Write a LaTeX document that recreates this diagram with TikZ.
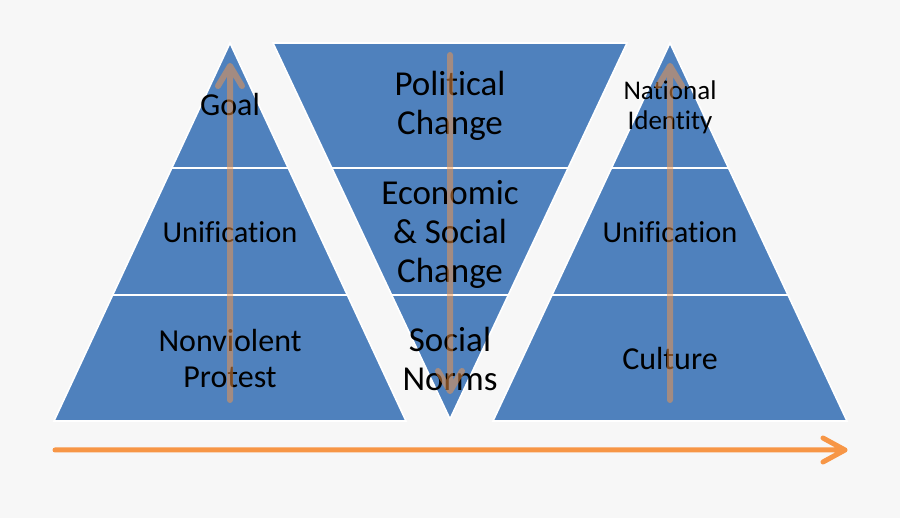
\documentclass[tikz,border=0pt]{standalone}
\usepackage{fontspec}
\setmainfont{Carlito}[Ligatures=NoCommon]
\usetikzlibrary{calc}
\definecolor{bg}{HTML}{F7F7F7}
\definecolor{pblue}{HTML}{4F81BD}
\definecolor{porange}{HTML}{F79646}
\begin{document}
\begin{tikzpicture}[x=1pt,y=-1pt,
  layer/.style={fill=pblue,draw=white,line width=1.6pt,line join=miter},
  lbl/.style={text=black,align=center,inner sep=0pt,anchor=base},
  bigf/.style={font=\fontsize{35}{39}\selectfont},
  midf/.style={font=\fontsize{32}{35.5}\selectfont},
  unif/.style={font=\fontsize{30.4}{35}\selectfont},
  natf/.style={font=\fontsize{27}{30}\selectfont},
  varrow/.style={draw=porange,draw opacity=0.5,line width=6pt,line cap=round,line join=round},
  harrow/.style={draw=porange,line width=5pt,line cap=round,line join=round}]
\fill[bg] (0,0) rectangle (900,518);
\useasboundingbox (0,0) rectangle (900,518);

% left pyramid
\coordinate (LA) at (230,43);
\coordinate (LL) at (54,421);
\coordinate (LR) at (406,421);
\coordinate (L1l) at ($(LA)!0.3307!(LL)$);
\coordinate (L1r) at ($(LA)!0.3307!(LR)$);
\coordinate (L2l) at ($(LA)!0.6667!(LL)$);
\coordinate (L2r) at ($(LA)!0.6667!(LR)$);
\draw[layer] (LA) -- (L1l) -- (L1r) -- cycle;
\draw[layer] (L1l) -- (L2l) -- (L2r) -- (L1r) -- cycle;
\draw[layer] (L2l) -- (LL) -- (LR) -- (L2r) -- cycle;

% middle inverted pyramid
\coordinate (MTL) at (273,43);
\coordinate (MTR) at (627,43);
\coordinate (MB) at (450,419);
\coordinate (M1l) at ($(MTL)!0.3324!(MB)$);
\coordinate (M1r) at ($(MTR)!0.3324!(MB)$);
\coordinate (M2l) at ($(MTL)!0.6702!(MB)$);
\coordinate (M2r) at ($(MTR)!0.6702!(MB)$);
\draw[layer] (MTL) -- (MTR) -- (M1r) -- (M1l) -- cycle;
\draw[layer] (M1l) -- (M1r) -- (M2r) -- (M2l) -- cycle;
\draw[layer] (M2l) -- (M2r) -- (MB) -- cycle;

% right pyramid
\coordinate (RA) at (670,43);
\coordinate (RL) at (493,421);
\coordinate (RR) at (847,421);
\coordinate (R1l) at ($(RA)!0.3307!(RL)$);
\coordinate (R1r) at ($(RA)!0.3307!(RR)$);
\coordinate (R2l) at ($(RA)!0.6667!(RL)$);
\coordinate (R2r) at ($(RA)!0.6667!(RR)$);
\draw[layer] (RA) -- (R1l) -- (R1r) -- cycle;
\draw[layer] (R1l) -- (R2l) -- (R2r) -- (R1r) -- cycle;
\draw[layer] (R2l) -- (RL) -- (RR) -- (R2r) -- cycle;

% labels (anchor=base is the baseline of the last line)
\node[lbl,midf] (goal) at (230,115.5) {Goal};
\node[lbl,unif] (uniL) at (230,242.5) {Unification};
\node[lbl,midf] (nonv) at (230,387.5) {Nonviolent\\Protest};
\node[lbl,bigf] (pol) at (450,135) {Political\\Change};
\node[lbl,bigf] (econ) at (450,283) {Economic\\\& Social\\Change};
\node[lbl,bigf] (soc) at (450,390.5) {Social\\Norms};
\node[lbl,natf] (nat) at (670,129.5) {National\\Identity};
\node[lbl,unif] (uniR) at (670,242.5) {Unification};
\node[lbl,midf] (cult) at (670,369.5) {Culture};

% vertical arrows
\coordinate (la0) at (230,400);
\coordinate (la1) at (230,66);
\draw[varrow] (la0) -- (la1) ++(-12,20) -- (la1) -- ++(12,20);
\coordinate (ma0) at (450,55);
\coordinate (ma1) at (450,391);
\draw[varrow] (ma0) -- (ma1) ++(-12,-20) -- (ma1) -- ++(12,-20);
\coordinate (ra0) at (670,400);
\coordinate (ra1) at (670,66);
\draw[varrow] (ra0) -- (ra1) ++(-12,20) -- (ra1) -- ++(12,20);

% timeline arrow
\coordinate (h0) at (55,450);
\coordinate (h1) at (845,450);
\draw[harrow] (h0) -- (h1) ++(-22,-12) -- (h1) -- ++(-22,12);
\end{tikzpicture}
\end{document}
